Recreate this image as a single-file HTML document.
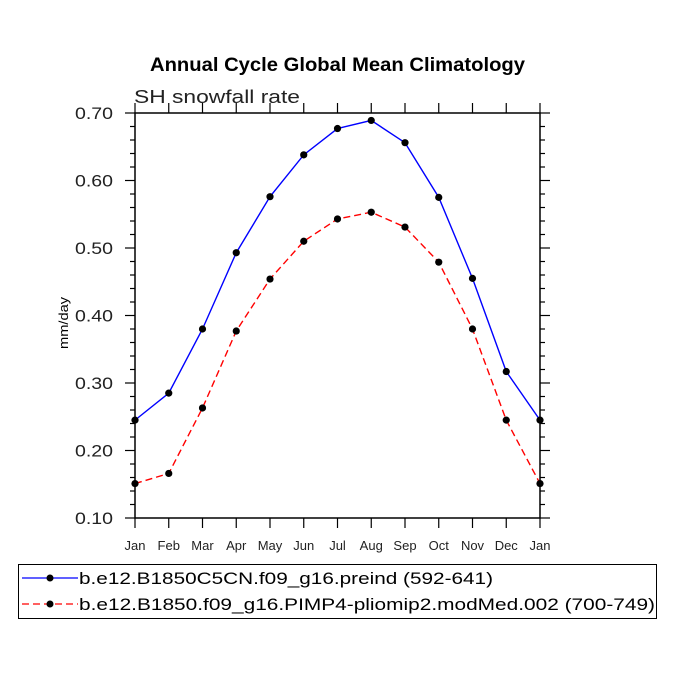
<!DOCTYPE html>
<html><head><meta charset="utf-8"><style>
body{margin:0;background:#fff;width:675px;height:675px;overflow:hidden}
svg text{font-family:"Liberation Sans","DejaVu Sans",sans-serif}
</style></head><body>
<svg id="c" width="675" height="675" xmlns="http://www.w3.org/2000/svg">
<text x="150" y="71" textLength="375" lengthAdjust="spacingAndGlyphs" font-weight="bold" font-size="19">Annual Cycle Global Mean Climatology</text>
<text x="134" y="103" textLength="166" lengthAdjust="spacingAndGlyphs" font-size="18" fill="#222">SH snowfall rate</text>
<text x="0" y="0" font-size="13" textLength="52" lengthAdjust="spacingAndGlyphs" transform="translate(68,323) rotate(-90)" text-anchor="middle">mm/day</text>
<g id="axes"></g>
<g id="series"></g>
<g>
<rect x="18.5" y="564.5" width="638" height="54" fill="none" stroke="#000" stroke-width="1"/>
<g>
<line x1="22" y1="578" x2="78" y2="578" stroke="#00f" stroke-width="1.3"/>
<circle cx="50" cy="578" r="3.5" fill="#000"/>
<text x="79" y="584" font-size="17" textLength="414" lengthAdjust="spacingAndGlyphs">b.e12.B1850C5CN.f09_g16.preind (592-641)</text>
</g>
<g>
<line x1="22" y1="604" x2="78" y2="604" stroke="#f00" stroke-width="1.3" stroke-dasharray="7,4"/>
<circle cx="50" cy="604" r="3.5" fill="#000"/>
<text x="79" y="610" font-size="17" textLength="576" lengthAdjust="spacingAndGlyphs">b.e12.B1850.f09_g16.PIMP4-pliomip2.modMed.002 (700-749)</text>
</g>
</g>
</svg>
<script>
const months=["Jan","Feb","Mar","Apr","May","Jun","Jul","Aug","Sep","Oct","Nov","Dec","Jan"];
const preind=[0.245,0.285,0.380,0.493,0.576,0.638,0.677,0.689,0.656,0.575,0.455,0.317,0.245];
const pliomip=[0.151,0.166,0.263,0.377,0.454,0.510,0.543,0.553,0.531,0.479,0.380,0.245,0.151];
const yTicks=["0.10","0.20","0.30","0.40","0.50","0.60","0.70"];
const L=135,R=540,T=113,B=518,ymin=0.1,ymax=0.7;
const xs=i=>L+(R-L)*i/(months.length-1);
const ys=v=>B-(v-ymin)/(ymax-ymin)*(B-T);
const NS="http://www.w3.org/2000/svg";
function mk(tag,attrs,parent){const e=document.createElementNS(NS,tag);for(const k in attrs)e.setAttribute(k,attrs[k]);parent.appendChild(e);return e;}
const ax=document.getElementById('axes');
const frame=mk('rect',{x:L,y:T,width:R-L,height:B-T,fill:'none',stroke:'#000','stroke-width':1.5},ax);


for(let v=0.10;v<=0.7001;v+=0.02){
  const y=ys(v);const major=Math.abs(Math.round(v*10)-v*10)<1e-6;const len=major?10:5;
  mk('line',{x1:L-len,y1:y,x2:L,y2:y,stroke:'#000','stroke-width':1.2},ax);
  mk('line',{x1:R,y1:y,x2:R+len,y2:y,stroke:'#000','stroke-width':1.2},ax);
}
yTicks.forEach(t=>{
  const tx=mk('text',{x:L-22,y:ys(parseFloat(t))+6,'text-anchor':'end','font-size':17,fill:'#222',textLength:38,lengthAdjust:'spacingAndGlyphs'},ax);
  tx.textContent=t;
  
  
});
months.forEach((m,i)=>{
  const x=xs(i);
  mk('line',{x1:x,y1:B,x2:x,y2:B+10,stroke:'#000','stroke-width':1.2},ax);
  mk('line',{x1:x,y1:T-10,x2:x,y2:T,stroke:'#000','stroke-width':1.2},ax);
  const tx=mk('text',{x:x,y:B+32,'text-anchor':'middle','font-size':13,fill:'#222'},ax);
  tx.textContent=m;
  
  
});
const sg=document.getElementById('series');
function draw(vals,color,dash,name){
  const g=mk('g',{},sg);
  
  
  const pts=vals.map((v,i)=>xs(i)+','+ys(v)).join(' ');
  const pl=mk('polyline',{points:pts,fill:'none',stroke:color,'stroke-width':1.4},g);
  if(dash)pl.setAttribute('stroke-dasharray',dash);
  vals.forEach((v,i)=>{
    const c=mk('circle',{cx:xs(i),cy:ys(v),r:3.6,fill:'#000'},g);
    
    
  });
}
draw(preind,'#00f',null,'series-preind');
draw(pliomip,'#f00','7,4','series-pliomip');
</script>
</body></html>
